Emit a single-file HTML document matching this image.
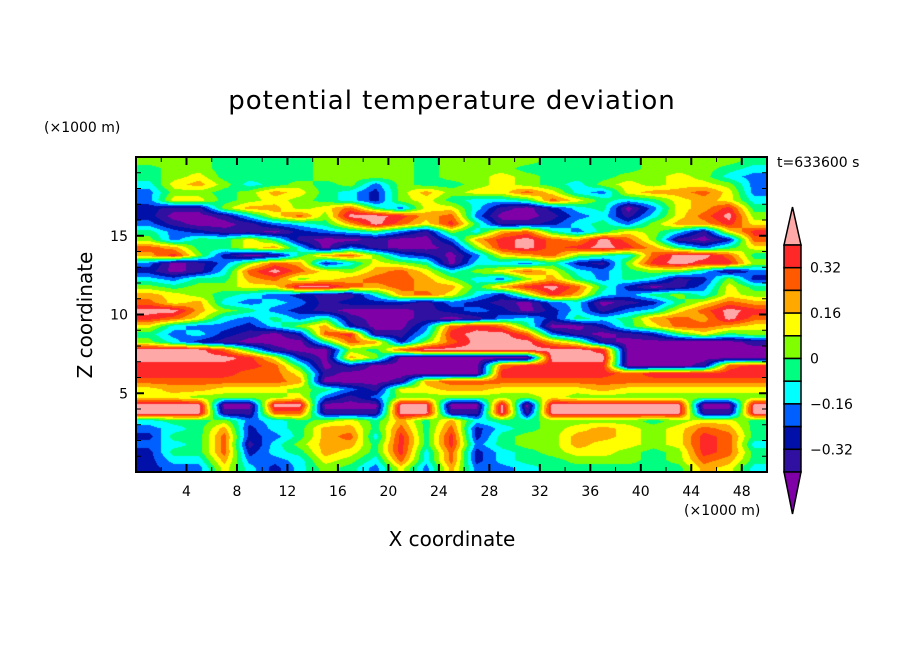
<!DOCTYPE html>
<html><head><meta charset="utf-8"><style>
body{margin:0;background:#fff;}
#wrap{position:relative;width:904px;height:654px;overflow:hidden;font-family:"DejaVu Sans","Liberation Sans",sans-serif;color:#000;}
.t{position:absolute;white-space:nowrap;}
</style></head><body>
<div id="wrap">
<div class="t" style="left:0;width:904px;text-align:center;top:86px;font-size:26px;letter-spacing:1px;">potential temperature deviation</div>
<div class="t" style="left:44px;top:120px;font-size:14px;">(×1000 m)</div>
<div class="t" style="left:777px;top:155px;font-size:14px;">t=633600 s</div>
<div class="t" style="left:684px;top:503px;font-size:14px;">(×1000 m)</div>
<div class="t" style="left:352px;width:200px;text-align:center;top:527px;font-size:20px;">X coordinate</div>
<div class="t" style="left:-15px;width:200px;text-align:center;top:303px;font-size:20px;transform:rotate(-90deg);">Z coordinate</div>
<canvas id="field" width="631" height="315" style="position:absolute;left:136px;top:157px;"></canvas>
<svg id="ov" width="904" height="654" style="position:absolute;left:0;top:0;"></svg>
</div>
<script>
const levelColors=["#8000a8","#3010a0","#0010a8","#0060ff","#00ffff","#00ff80","#80ff00","#ffff00","#ffa800","#ff5a00","#ff2828","#ffa8a8"];
const colorbarLabels=["0.32","0.16","0","\u22120.16","\u22120.32"];
const xTicks=[4,8,12,16,20,24,28,32,36,40,44,48];
const yTicks=[5,10,15];
// field level indices, rows from z=20 (top) to z=0, 25 columns of 2 km
const fieldRows=[
"6 6 6 5 5 5 5 6 6 6 6 5 6 6 6 6 5 5 5 5 6 6 6 6 5",
"5 6 6 5 5 5 5 6 6 6 6 5 6 6 6 5 5 5 5 5 6 6 6 5 4",
"5 6 7 5 5 5 5 6 6 6 6 5 6 6 7 6 5 5 5 6 6 7 6 4 3",
"4 7 8 6 4 5 6 5 6 3 6 5 5 6 7 6 5 4 6 7 6 7 7 6 3",
"3 6 6 5 6 8 7 5 4 2 6 8 6 7 7 9 7 4 3 7 8 8 9 7 3",
"3 7 7 5 6 7 6 5 4 2 6 7 5 4 4 5 9 7 5 4 5 7 8 7 4",
"2 1 1 6 8 8 6 7 9 5 3 7 7 4 1 0 2 4 5 0 3 7 8 10 5",
"2 0 0 1 4 7 9 6 11 11 10 8 9 3 0 0 1 3 4 1 4 7 9 11 6",
"3 1 0 0 1 3 4 5 8 11 9 7 10 5 1 1 2 4 5 3 6 8 8 10 7",
"5 3 2 1 1 0 2 3 4 5 3 1 6 4 8 9 5 3 5 7 6 4 1 7 10",
"6 3 5 5 7 5 1 0 0 1 0 0 3 8 10 11 9 8 11 9 6 1 0 2 9",
"9 8 5 5 7 8 4 0 3 1 0 0 1 6 10 11 9 10 11 10 8 5 3 5 7",
"8 10 6 2 0 1 5 8 9 6 3 2 0 3 7 8 9 6 5 4 9 11 11 9 5",
"3 0 1 3 6 9 8 2 4 7 6 5 0 4 4 3 5 2 1 6 10 11 10 10 6",
"2 0 1 4 9 11 9 7 6 8 9 7 4 6 7 9 7 4 3 5 6 6 4 1 3",
"4 3 5 5 8 9 6 7 8 9 9 8 6 4 3 6 8 5 3 5 4 1 2 6 2",
"6 5 6 6 7 7 11 11 9 8 9 8 8 5 8 10 11 9 5 2 0 1 3 7 5",
"8 7 6 5 4 3 2 1 1 4 8 9 7 4 2 6 10 8 4 3 5 6 4 7 6",
"9 7 8 4 3 4 3 1 2 2 2 1 3 2 1 0 3 4 0 1 2 5 7 9 8",
"11 11 8 6 5 3 2 1 0 0 0 1 2 3 2 0 2 4 1 3 4 7 9 11 10",
"10 9 7 4 3 5 3 5 1 0 0 1 0 1 3 4 2 5 4 5 8 9 8 11 9",
"7 4 3 3 2 4 6 8 2 0 0 3 9 10 9 5 0 0 2 5 7 9 9 8 7",
"5 3 4 2 1 0 2 9 10 1 1 4 10 11 11 9 3 1 0 1 2 5 7 5 6",
"6 4 2 1 0 0 0 5 9 8 2 6 9 11 11 11 8 6 1 0 0 0 0 0 1",
"11 11 11 9 5 1 0 0 6 5 9 11 11 11 11 11 11 11 10 0 0 0 0 0 0",
"11 11 11 11 10 7 2 0 8 6 0 0 0 0 0 0 11 11 11 0 0 0 0 0 0",
"10 10 10 10 10 9 5 0 2 0 0 0 0 0 9 10 10 10 10 0 0 0 1 9 10",
"10 10 10 10 9 9 7 1 0 0 0 0 0 0 10 10 10 10 10 9 10 10 10 10 10",
"9 9 9 9 9 9 8 0 0 0 1 8 9 9 9 9 9 9 9 9 9 9 9 9 9",
"7 8 8 7 7 7 6 5 3 1 7 7 8 8 7 7 7 7 8 7 7 7 7 7 7",
"7 7 6 6 6 6 7 3 1 3 6 6 6 6 6 6 7 6 6 6 6 6 6 6 6",
"11 11 11 0 0 11 11 0 0 0 11 11 0 0 11 0 11 11 11 11 11 11 0 0 11",
"11 11 11 1 1 9 9 1 1 1 11 11 1 1 11 1 11 11 11 11 11 11 1 1 11",
"4 5 5 6 3 4 5 6 7 5 8 5 8 4 5 5 6 6 6 6 5 6 7 7 5",
"3 4 5 8 2 4 5 8 8 5 9 5 9 2 4 5 6 7 8 7 6 7 9 8 5",
"2 5 5 9 2 3 5 8 9 4 10 5 10 2 5 6 6 8 8 7 6 7 10 9 5",
"3 4 5 9 1 4 6 8 8 5 10 5 10 3 5 6 6 8 7 7 6 7 10 9 4",
"2 5 5 9 2 4 5 8 7 5 10 4 9 2 4 5 6 7 7 6 5 6 10 9 5",
"2 4 4 8 3 3 4 7 6 4 9 4 9 2 4 5 5 6 6 6 5 6 9 8 5",
"2 3 3 7 4 2 4 6 5 3 7 3 8 3 3 4 5 5 5 5 5 5 8 7 4"
];
const X0=136,X1=767,Y0=157,Y1=472,XMAX=50,ZMAX=20;
function sx(v){return X0+(X1-X0)*v/XMAX;}
function sy(v){return Y1-(Y1-Y0)*v/ZMAX;}
const grid=fieldRows.map(r=>r.trim().split(/\s+/).map(Number));
const nr=grid.length,nc=grid[0].length;
function hex(c){return [parseInt(c.substr(1,2),16),parseInt(c.substr(3,2),16),parseInt(c.substr(5,2),16)];}
const rgb=levelColors.map(hex);
(function(){
 const cv=document.getElementById('field');const ctx=cv.getContext('2d');
 const W=cv.width,H=cv.height;const img=ctx.createImageData(W,H);
 for(let py=0;py<H;py++){
  let fy=(py+0.5)/H*nr-0.5; if(fy<0)fy=0; if(fy>nr-1)fy=nr-1;
  const r0=Math.floor(fy),r1=Math.min(r0+1,nr-1),ty=fy-r0;
  for(let px=0;px<W;px++){
   let fx=(px+0.5)/W*nc-0.5; if(fx<0)fx=0; if(fx>nc-1)fx=nc-1;
   const c0=Math.floor(fx),c1=Math.min(c0+1,nc-1),tx=fx-c0;
   const v=(grid[r0][c0]*(1-tx)+grid[r0][c1]*tx)*(1-ty)+(grid[r1][c0]*(1-tx)+grid[r1][c1]*tx)*ty;
   let l=Math.round(v); l=Math.max(0,Math.min(11,l));
   const k=(py*W+px)*4;img.data[k]=rgb[l][0];img.data[k+1]=rgb[l][1];img.data[k+2]=rgb[l][2];img.data[k+3]=255;
  }
 }
 ctx.putImageData(img,0,0);
})();
const NS="http://www.w3.org/2000/svg";const svg=document.getElementById('ov');
function mk(tag,attrs){const e=document.createElementNS(NS,tag);for(const k in attrs)e.setAttribute(k,attrs[k]);svg.appendChild(e);return e;}
let fr=mk('rect',{x:X0,y:Y0,width:X1-X0,height:Y1-Y0,fill:'none',stroke:'#000','stroke-width':2});


for(let v=2;v<XMAX;v+=2){const maj=v%4===0;const L=maj?8:5;
 let t=mk('line',{x1:sx(v),x2:sx(v),y1:Y1,y2:Y1-L,stroke:'#000','stroke-width':maj?2:1});
 
 
 let t2=mk('line',{x1:sx(v),x2:sx(v),y1:Y0,y2:Y0+L,stroke:'#000','stroke-width':maj?2:1});
 
 
}
for(let v=1;v<ZMAX;v+=1){const maj=v%5===0;const L=maj?8:5;
 let t=mk('line',{x1:X0,x2:X0+L,y1:sy(v),y2:sy(v),stroke:'#000','stroke-width':maj?2:1});
 
 
 let t2=mk('line',{x1:X1,x2:X1-L,y1:sy(v),y2:sy(v),stroke:'#000','stroke-width':maj?2:1});
 
 
}
xTicks.forEach(v=>{let t=mk('text',{x:sx(v),y:Y1+24,'text-anchor':'middle','font-size':14,'font-family':'DejaVu Sans, Liberation Sans, sans-serif'});t.textContent=v;
 
 });
yTicks.forEach(v=>{let t=mk('text',{x:X0-8,y:sy(v)+5,'text-anchor':'end','font-size':14,'font-family':'DejaVu Sans, Liberation Sans, sans-serif'});t.textContent=v;
 
 });
const CB_X=784,CB_W=17,CB_TOP=245,CELL=22.7;
let tri=mk('polygon',{points:`${CB_X},${CB_TOP} ${CB_X+CB_W},${CB_TOP} ${CB_X+CB_W/2},207`,fill:levelColors[11],stroke:'#000','stroke-width':1.5});


for(let i=0;i<10;i++){const l=10-i;
 let r=mk('rect',{x:CB_X,y:CB_TOP+i*CELL,width:CB_W,height:CELL,fill:levelColors[l],stroke:'#000','stroke-width':1.5});
 
 
}
const cbBot=CB_TOP+10*CELL;
let tri2=mk('polygon',{points:`${CB_X},${cbBot} ${CB_X+CB_W},${cbBot} ${CB_X+CB_W/2},514`,fill:levelColors[0],stroke:'#000','stroke-width':1.5});


colorbarLabels.forEach((s,i)=>{let t=mk('text',{x:810,y:CB_TOP+CELL*(1+2*i)+5,'font-size':14,'font-family':'DejaVu Sans, Liberation Sans, sans-serif'});t.textContent=s;
 
 });
</script>
</body></html>
